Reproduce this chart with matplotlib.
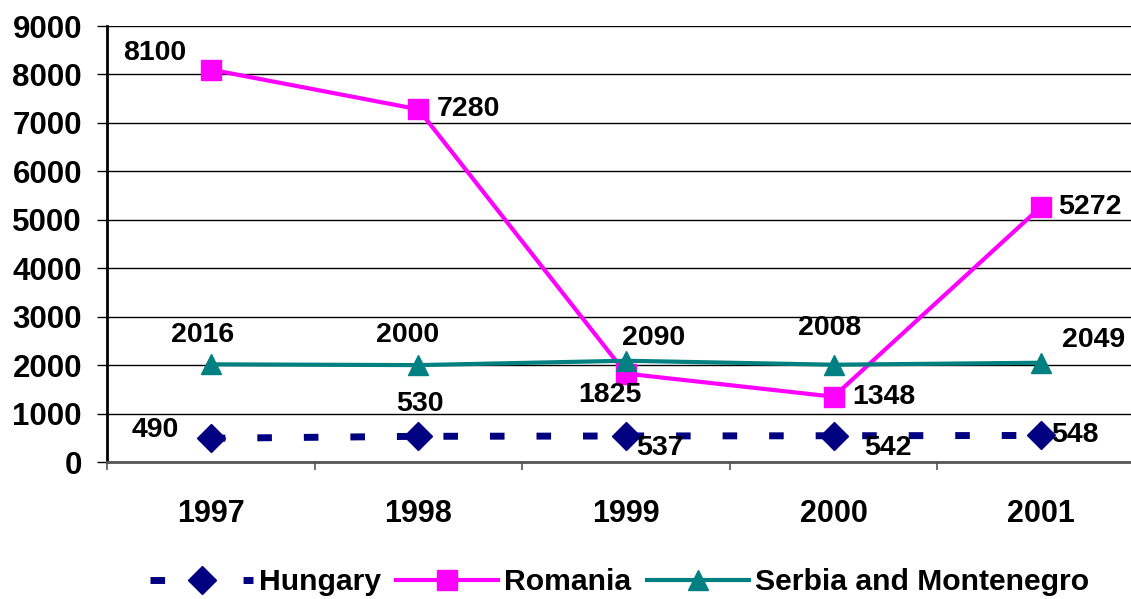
import matplotlib
matplotlib.use("Agg")
import matplotlib.pyplot as plt
from matplotlib.ticker import FixedLocator, MultipleLocator

plt.rcParams["font.family"] = ["Liberation Sans", "DejaVu Sans"]
plt.rcParams["font.weight"] = "bold"

years = ["1997", "1998", "1999", "2000", "2001"]
hungary = [490, 530, 537, 542, 548]
romania = [8100, 7280, 1825, 1348, 5272]
serbia = [2016, 2000, 2090, 2008, 2049]

# label offsets in pixels (dx, dy, ha) per point
hungary_lbl = [(-56, 8, "center"), (2, 32, "center"), (34, -12, "center"),
               (54, -12, "center"), (10, 0, "left")]
romania_lbl = [(-56, 17, "center"), (18, 0, "left"), (-16, -21, "center"),
               (19, 0, "left"), (17, 0, "left")]
serbia_lbl = [(-8, 29, "center"), (-11, 30, "center"), (28, 23, "center"),
              (-4, 37, "center"), (52, 23, "center")]

fig = plt.figure(figsize=(11.31, 5.99), dpi=100)
ax = fig.add_axes([107 / 1131, 1 - 462 / 599, (1145 - 107) / 1131, (462 - 26) / 599])

x = list(range(len(years)))
ax.plot(x, hungary, color="#000080", lw=5, ls=(0, (2.1, 4.6)), dash_capstyle="butt",
        marker="D", ms=14, label="Hungary", zorder=3)
ax.plot(x, romania, color="#FF00FF", lw=3, marker="s", ms=14, label="Romania", zorder=3)
ax.plot(x, serbia, color="#008080", lw=3, marker="^", ms=15, label="Serbia and Montenegro", zorder=4)

for vals, offs in [(hungary, hungary_lbl), (romania, romania_lbl), (serbia, serbia_lbl)]:
    for i, (v, (dx, dy, ha)) in enumerate(zip(vals, offs)):
        ax.annotate(str(v), (i, v), xytext=(dx, dy), textcoords="offset pixels",
                    ha=ha, va="center", fontsize=20.5, fontweight="bold", zorder=5)

ax.set_xlim(-0.5, 4.5)
ax.set_ylim(0, 9000)
ax.yaxis.set_major_locator(MultipleLocator(1000))
ax.grid(axis="y", color="black", lw=1)
ax.set_axisbelow(True)

ax.set_xticks(x)
ax.set_xticklabels(years)
ax.xaxis.set_minor_locator(FixedLocator([-0.5, 0.5, 1.5, 2.5, 3.5, 4.5]))
ax.tick_params(axis="x", which="major", length=0, pad=27, labelsize=22)
ax.tick_params(axis="x", which="minor", length=6, width=1.2, color="#555555", direction="out")
ax.tick_params(axis="y", length=7, width=1, color="black", pad=11, labelsize=22.5)

for s in ["top", "right"]:
    ax.spines[s].set_visible(False)
ax.spines["left"].set_linewidth(2)
ax.spines["bottom"].set_linewidth(2)
ax.spines["bottom"].set_color("#555555")

fig.legend(loc="center", bbox_to_anchor=(0.548, 0.028), ncol=3, frameon=False,
           fontsize=21.7, handlelength=3.4, handletextpad=0.2, columnspacing=0.5,
           borderaxespad=0)

fig.savefig("out.png", dpi=100)
